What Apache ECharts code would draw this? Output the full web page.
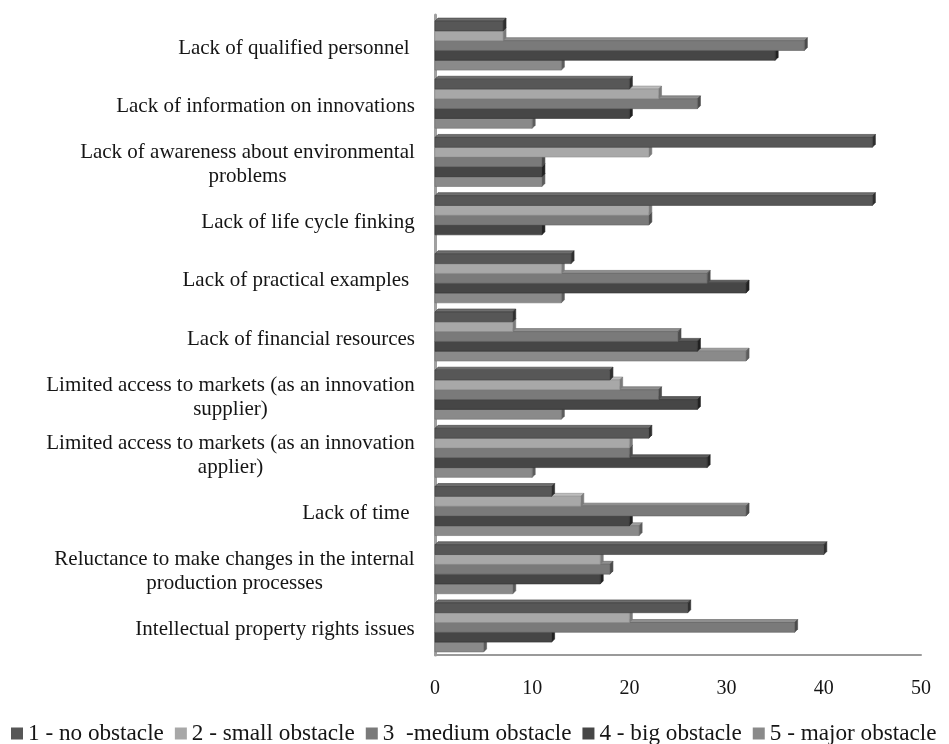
<!DOCTYPE html>
<html>
<head>
<meta charset="utf-8">
<script src="https://cdn.jsdelivr.net/npm/echarts@6/dist/echarts.min.js"></script>
<style>
  html, body { margin: 0; padding: 0; background: #ffffff; }
  #chart { width: 949px; height: 744px; }
</style>
</head>
<body>
<div id="chart"></div>
<script>
// Barriers to eco-innovation, share of answers (%) per obstacle level
const categories = [
  'Lack of qualified personnel ',
  'Lack of information on innovations',
  'Lack of awareness about environmental\nproblems',
  'Lack of life cycle finking',
  'Lack of practical examples ',
  'Lack of financial resources',
  'Limited access to markets (as an innovation\nsupplier)',
  'Limited access to markets (as an innovation\napplier)',
  'Lack of time ',
  'Reluctance to make changes in the internal\nproduction processes',
  'Intellectual property rights issues'
];

const seriesNames = [
  '1 - no obstacle',
  '2 - small obstacle',
  '3  -medium obstacle',
  '4 - big obstacle',
  '5 - major obstacle'
];

const noObstacle     = [7, 20, 45, 45, 14, 8, 18, 22, 12, 40, 26];
const smallObstacle  = [7, 23, 22, 22, 13, 8, 19, 20, 15, 17, 20];
const mediumObstacle = [38, 27, 11, 22, 28, 25, 23, 20, 32, 18, 37];
const bigObstacle    = [35, 20, 11, 11, 32, 27, 27, 28, 20, 17, 12];
const majorObstacle  = [13, 10, 11, 0, 13, 32, 13, 10, 21, 8, 5];

const xTicks = [0, 10, 20, 30, 40, 50];

const seriesData = [noObstacle, smallObstacle, mediumObstacle, bigObstacle, majorObstacle];
const fills  = ['#575757', '#a8a8a8', '#7a7a7a', '#464646', '#8a8a8a'];
const tops   = ['#6e6e6e', '#bdbdbd', '#8f8f8f', '#5c5c5c', '#9e9e9e'];
const sides  = ['#2f2f2f', '#7a7a7a', '#4c4c4c', '#222222', '#5c5c5c'];
const edges  = ['#404040', '#909090', '#626262', '#323232', '#727272'];

const labelFont = '"Liberation Serif", "Times New Roman", serif';
const labelSize = 21;
const DEPTH = 3;           // pseudo-3D depth of each bar, px
const GROUP_SHARE = 0.894; // part of a category band filled by its bars

// Width of the longest line of each label, so wrapped lines can be centred
// against each other while the block stays right-aligned to the axis.
const measureCtx = document.createElement('canvas').getContext('2d');
measureCtx.font = labelSize + 'px "Liberation Serif"';
const richStyles = {};
categories.forEach((c, i) => {
  const w = Math.max(...c.split('\n').map(l => measureCtx.measureText(l).width));
  richStyles['m' + i] = {
    width: Math.ceil(w),
    align: 'center',
    fontFamily: labelFont,
    fontSize: labelSize,
    lineHeight: 24,
    color: '#151515'
  };
});

// One bar with a light top face and a dark end face.
function makeRenderer(seriesIndex) {
  return function (params, api) {
    const value = api.value(0);
    const cat = api.value(1);
    if (!value) return null;
    const start = api.coord([0, cat]);
    const end = api.coord([value, cat]);
    const band = api.size([0, 1])[1];
    const groupH = band * GROUP_SHARE;
    const thick = (groupH - DEPTH) / seriesNames.length;
    const groupTop = start[1] - groupH / 2 + DEPTH;
    const y0 = groupTop + seriesIndex * thick;
    const y1 = y0 + thick;
    const x0 = start[0];
    const x1 = end[0];
    const d = DEPTH;
    return {
      type: 'group',
      children: [
        {
          type: 'polygon',
          shape: { points: [[x0, y0], [x0 + d, y0 - d], [x1 + d, y0 - d], [x1, y0]] },
          style: { fill: tops[seriesIndex], stroke: edges[seriesIndex], lineWidth: 0.6 }
        },
        {
          type: 'polygon',
          shape: { points: [[x1, y0], [x1 + d, y0 - d], [x1 + d, y1 - d], [x1, y1]] },
          style: { fill: sides[seriesIndex], stroke: sides[seriesIndex], lineWidth: 0.6 }
        },
        {
          type: 'rect',
          shape: { x: x0, y: y0, width: x1 - x0, height: thick },
          style: { fill: fills[seriesIndex], stroke: edges[seriesIndex], lineWidth: 0.6 }
        }
      ]
    };
  };
}

const chart = echarts.init(document.getElementById('chart'), null, { renderer: 'canvas' });

chart.setOption({
  animation: false,
  backgroundColor: '#ffffff',
  grid: { left: 435, right: 28, top: 15, bottom: 89, containLabel: false },
  legend: {
    data: seriesNames,
    left: 11,
    width: 938,
    top: 722,
    padding: 0,
    icon: 'rect',
    itemWidth: 12,
    itemHeight: 12,
    itemGap: 11,
    textStyle: { fontFamily: labelFont, fontSize: 23.2, color: '#151515' }
  },
  xAxis: {
    type: 'value',
    min: xTicks[0],
    max: xTicks[xTicks.length - 1],
    interval: xTicks[1] - xTicks[0],
    axisLine: { show: true, lineStyle: { color: '#9a9a9a', width: 2 } },
    axisTick: { show: false },
    splitLine: { show: false },
    axisLabel: { fontFamily: labelFont, fontSize: 20, color: '#151515', margin: 24 }
  },
  yAxis: {
    type: 'category',
    data: categories,
    inverse: true,
    axisLine: { show: true, lineStyle: { color: '#a0a0a0', width: 3 } },
    axisTick: { show: false },
    splitLine: { show: false },
    axisLabel: {
      margin: 20,
      align: 'right',
      padding: [8, 0, 0, 0],
      formatter: (value, idx) => value.split('\n').map(l => '{m' + idx + '|' + l + '}').join('\n'),
      rich: richStyles
    }
  },
  series: seriesNames.map((name, i) => ({
    name: name,
    type: 'custom',
    z: 10 - i,
    data: seriesData[i].map((v, j) => [v, j]),
    encode: { x: 0, y: 1 },
    itemStyle: { color: fills[i] },
    renderItem: makeRenderer(i)
  }))
});
</script>
</body>
</html>
